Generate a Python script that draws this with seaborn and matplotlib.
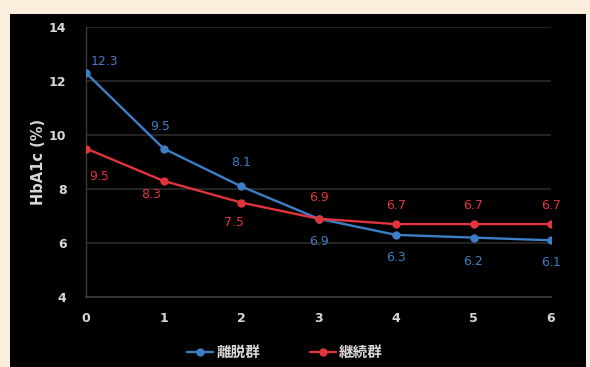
import matplotlib
matplotlib.use("Agg")
import matplotlib.pyplot as plt
from matplotlib.patches import Rectangle
import seaborn as sns
import pandas as pd

# HbA1c trajectories by year for the two groups
years = [0, 1, 2, 3, 4, 5, 6]
dropout = [12.3, 9.5, 8.1, 6.9, 6.3, 6.2, 6.1]
continued = [9.5, 8.3, 7.5, 6.9, 6.7, 6.7, 6.7]
group_names = ["離脱群", "継続群"]
y_ticks = [4, 6, 8, 10, 12, 14]

# label offsets (pixels) from each point
dropout_offsets = [(18, 11), (-3, 22), (0, 24), (0, -23), (0, -23), (0, -24), (0, -22)]
continued_offsets = [(13, -28), (-12, -14), (-7, -20), (0, 21), (0, 19), (0, 19), (0, 19)]

BLUE = "#3d7fc6"
RED = "#e2343c"
TEXT = "#d8d8d8"

sns.set_theme(style="dark")
plt.rcParams["font.family"] = ["Noto Sans CJK JP", "DejaVu Sans"]

df = pd.DataFrame({
    "year": years * 2,
    "hba1c": dropout + continued,
    "group": [group_names[0]] * len(years) + [group_names[1]] * len(years),
})

fig = plt.figure(figsize=(5.9, 3.67), dpi=100)
fig.patch.set_facecolor("#fbeedd")
fig.patches.append(Rectangle((10 / 590, 0), 576 / 590, 1 - 14 / 367,
                             transform=fig.transFigure, facecolor="black",
                             edgecolor="none", zorder=-10))

ax = fig.add_axes([86 / 590, 1 - 297 / 367, 465 / 590, 270 / 367])
ax.set_facecolor("black")
ax.patch.set_alpha(0)

sns.lineplot(data=df, x="year", y="hba1c", hue="group",
             palette={group_names[0]: BLUE, group_names[1]: RED},
             marker="o", markersize=6, markeredgewidth=0, linewidth=1.7,
             ax=ax, legend=True, zorder=3)

ax.set_xlim(0, 6)
ax.set_ylim(4, 14)
ax.set_yticks(y_ticks)
ax.set_xticks(years)
ax.set_xticklabels([str(v) for v in years])
ax.tick_params(colors=TEXT, labelsize=9, length=3, width=0.8)
ax.tick_params(axis="x", pad=8)
ax.tick_params(axis="y", length=0, pad=14)
for lbl in ax.get_xticklabels() + ax.get_yticklabels():
    lbl.set_fontweight("bold")
    lbl.set_family("DejaVu Sans")

ax.grid(axis="y", color="#2b2b2b", linewidth=1.2)
ax.grid(axis="x", visible=False)
for side in ["top", "right"]:
    ax.spines[side].set_visible(False)
ax.spines["left"].set_color("#3a3a3a")
ax.spines["bottom"].set_color("#3a3a3a")
ax.spines["left"].set_linewidth(1.0)
ax.spines["bottom"].set_linewidth(1.2)

ax.set_xlabel("")
ax.set_ylabel("HbA1c (%)", color=TEXT, fontsize=10.5, fontweight="bold",
              family="DejaVu Sans", labelpad=2)

for x, v, off in zip(years, dropout, dropout_offsets):
    ax.annotate(f"{v:.1f}", (x, v), xytext=off, textcoords="offset pixels",
                ha="center", va="center", color=BLUE, fontsize=9,
                family="DejaVu Sans")
for x, v, off in zip(years, continued, continued_offsets):
    ax.annotate(f"{v:.1f}", (x, v), xytext=off, textcoords="offset pixels",
                ha="center", va="center", color=RED, fontsize=9,
                family="DejaVu Sans")

leg = ax.legend(loc="center", bbox_to_anchor=(285 / 590, 1 - 352 / 367),
                bbox_transform=fig.transFigure, ncol=2, frameon=False,
                handlelength=1.8, handletextpad=0.2, columnspacing=3.4,
                fontsize=10.5)
for t in leg.get_texts():
    t.set_color(TEXT)
    t.set_fontweight("bold")

fig.savefig("out.png", dpi=100, facecolor=fig.get_facecolor())
